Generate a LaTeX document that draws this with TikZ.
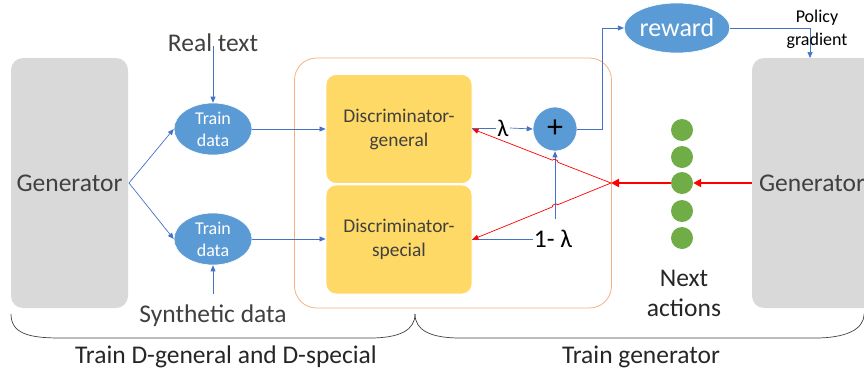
\documentclass[tikz,border=0pt]{standalone}
\usepackage{fontspec}
\setmainfont{Carlito}
\usetikzlibrary{shapes.geometric,arrows.meta,calc}
\definecolor{gengray}{HTML}{D9D9D9}
\definecolor{ellblue}{HTML}{5B9BD5}
\definecolor{lineblue}{HTML}{4472C4}
\definecolor{discyellow}{HTML}{FFD966}
\definecolor{frameorange}{HTML}{F4B183}
\definecolor{dotgreen}{HTML}{70AD47}
\definecolor{txtgray}{HTML}{404040}
\definecolor{redline}{HTML}{FF0000}
\tikzset{
  genbox/.style={draw=none,fill=gengray,rounded corners=12pt,text=txtgray,font=\fontsize{25.5}{28}\selectfont,inner sep=0pt},
  dataell/.style={ellipse,fill=ellblue,draw=white,line width=0.6pt,text=white,minimum width=78pt,minimum height=52pt,inner sep=0pt,align=center,font=\fontsize{18}{22}\selectfont},
  discbox/.style={fill=discyellow,draw=white,line width=0.8pt,rounded corners=10pt,minimum width=146pt,minimum height=109pt,inner sep=0pt,align=center,text=txtgray,font=\fontsize{19.4}{24}\selectfont},
  bluearrow/.style={draw=lineblue,line width=0.7pt,-{Triangle[length=6pt,width=5pt]}},
  blueline/.style={draw=lineblue,line width=0.7pt},
  redthin/.style={draw=redline,line width=0.7pt,-{Triangle[length=6pt,width=5pt]}},
  redthick/.style={draw=redline,line width=2pt,-{Triangle[length=8pt,width=8pt]}},
  dotnode/.style={circle,fill=dotgreen,minimum size=22pt,inner sep=0pt},
  bigtxt/.style={text=txtgray,font=\fontsize{25.5}{30}\selectfont,inner sep=0pt,align=center},
  bracepath/.style={draw=txtgray,line width=0.7pt}
}
\begin{document}
\begin{tikzpicture}[x=1pt,y=-1pt]
\useasboundingbox (0,0) rectangle (864,378);
\begin{scope}
\clip (0,0) rectangle (864,378);
% generators
\node[genbox,minimum width=117pt,minimum height=250pt] (g1) at (69.5,183) {Generator};
\node[genbox,minimum width=124pt,minimum height=250pt] (g2) at (814,183) {};
\node[text=txtgray,font=\fontsize{25.5}{28}\selectfont,inner sep=0pt] (g2t) at (812,183) {Generator};
\end{scope}
% orange frame
\node[draw=frameorange,line width=0.8pt,rounded corners=22pt,minimum width=317pt,minimum height=250pt,inner sep=0pt] (frame) at (453,183) {};
% discriminators
\node[discbox] (dg) at (399,129) {Discriminator-\\general};
\node[discbox] (ds) at (399,239.5) {Discriminator-\\special};
% train data
\node[dataell] (t1) at (213,129) {Train\\data};
\node[dataell] (t2) at (213,239) {Train\\data};
\node[bigtxt] (real) at (213,43) {Real text};
\node[bigtxt] (syn) at (213,316) {Synthetic data};
\coordinate (realb) at (213,46);
\coordinate (synt) at (213,294);
\draw[bluearrow] (realb) -- (t1.north);
\draw[bluearrow] (synt) -- (t2.south);
\coordinate (gout) at (129,183);
\draw[bluearrow] (gout) -- (t1.west);
\draw[bluearrow] (gout) -- (t2.west);
\draw[bluearrow] (t1.east) -- (t1.east -| dg.west);
\draw[bluearrow] (t2.east) -- (t2.east -| ds.west);
% plus and weights
\node[circle,fill=ellblue,draw=white,line width=0.6pt,minimum size=44pt,inner sep=0pt,font=\fontsize{32}{32}\selectfont] (plus) at (555,129) {+};
\node[font=\fontsize{24}{26}\selectfont,inner sep=1pt] (lam) at (503,128) {λ};
\node[font=\fontsize{25.5}{28}\selectfont,inner sep=1pt] (lam2) at (553,239) {1- λ};
\draw[blueline] (lam.west) -- (lam.west -| dg.east);
\draw[bluearrow] (lam.east) -- (plus.west);
\draw[blueline] (lam2.west) -- (lam2.west -| ds.east);
\coordinate (lam2top) at (555,219);
\draw[bluearrow] (lam2top) -- (plus.south);
% reward
\node[ellipse,fill=ellblue,draw=white,line width=0.6pt,text=white,minimum width=104pt,minimum height=50pt,inner sep=0pt,font=\fontsize{26}{28}\selectfont] (rew) at (677,28) {reward};
\draw[bluearrow] (plus.east) -- (602,129) -- (602,28) -- (rew.west);
\coordinate (gtop) at (810,58);
\draw[bluearrow] (rew.east) -- (810,28) -- (gtop);
\node[align=center,font=\fontsize{18}{23}\selectfont,inner sep=0pt] (pg) at (817,29) {Policy\\gradient};
% green dots
\node[dotnode] (d1) at (682,130) {};
\node[dotnode] (d2) at (682,157) {};
\node[dotnode] (d3) at (682,183) {};
\node[dotnode] (d4) at (682,211) {};
\node[dotnode] (d5) at (682,238) {};
\node[bigtxt,text=black!85] (next) at (684,293) {Next\\actions};
% red arrows
\coordinate (rsplit) at (611,183);
\draw[redthick] (g2.west) -- (d3.east);
\draw[redthick] (d3.west) -- (rsplit);
\draw[redthin] (rsplit) -- ($(rsplit)!0.383!(dg.east)$) to[bend right=90] ($(rsplit)!0.423!(dg.east)$) -- (dg.east);
\draw[redthin] (rsplit) -- ($(rsplit)!0.385!(ds.east)$) to[bend right=90] ($(rsplit)!0.423!(ds.east)$) -- (ds.east);
% braces
\draw[bracepath] (11,314) .. controls (11,334) and (30,338) .. (60,338) -- (370,338) .. controls (400,338) and (415,330) .. (415,314);
\draw[bracepath] (415,314) .. controls (415,330) and (430,338) .. (460,338) -- (815,338) .. controls (845,338) and (864,330) .. (864,314);
\node[bigtxt,text=black!85] (lab1) at (226,357) {Train D-general and D-special};
\node[bigtxt,text=black!85] (lab2) at (641,357) {Train generator};
\end{tikzpicture}
\end{document}
